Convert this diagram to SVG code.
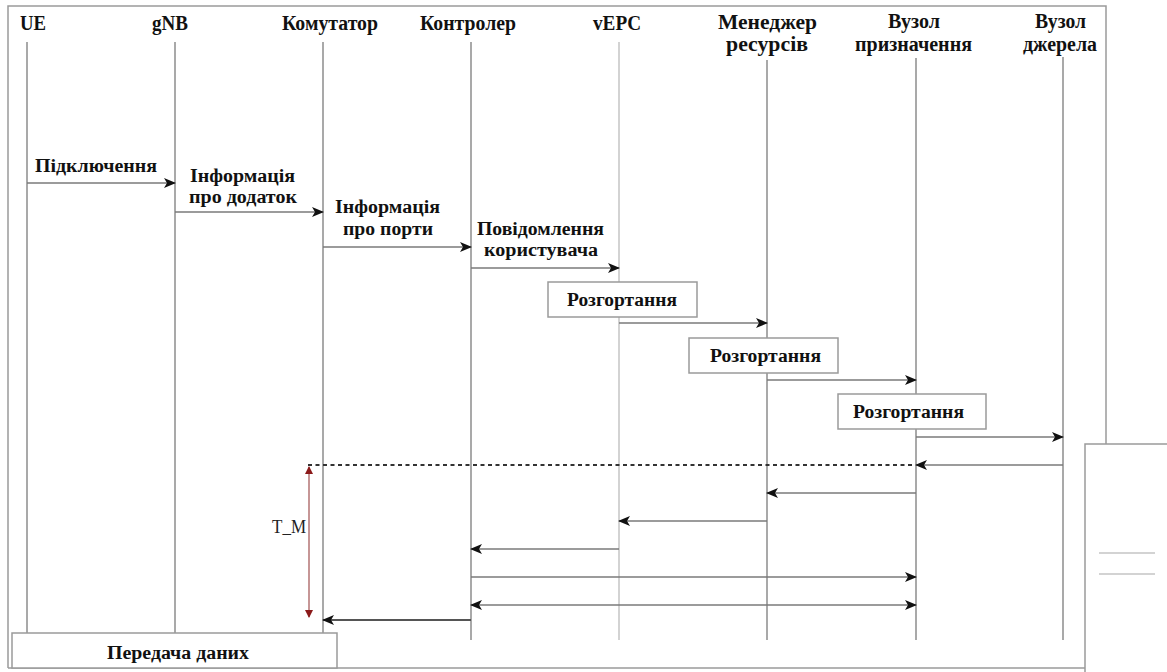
<svg xmlns="http://www.w3.org/2000/svg" width="1167" height="672" viewBox="0 0 1167 672">
  <defs>
    <marker id="arrow" viewBox="0 0 12 10" refX="11" refY="5" markerWidth="13" markerHeight="10" markerUnits="userSpaceOnUse" orient="auto-start-reverse">
      <path d="M0,0 L12,5 L0,10 L3,5 z" fill="#111"/>
    </marker>
    <marker id="tm" viewBox="0 0 8 8" refX="7" refY="4" markerWidth="9" markerHeight="8" markerUnits="userSpaceOnUse" orient="auto-start-reverse">
      <path d="M0,0 L8,4 L0,8 z" fill="#8b1a1a"/>
    </marker>
    <style>
      .frame { fill: none; stroke: #9a9a9a; stroke-width: 1.5; }
      .life { stroke: #8c8c8c; stroke-width: 1.5; }
      .life-light { stroke: #c4c4c4; stroke-width: 1.5; }
      .head { font-family: "Liberation Serif", "Tinos", "DejaVu Serif", serif; font-weight: bold; font-size: 20px; fill: #111; }
      .lbl { font-family: "Liberation Serif", "Tinos", "DejaVu Serif", serif; font-weight: bold; font-size: 18px; fill: #111; }
      .note { font-family: "Liberation Serif", "Tinos", "DejaVu Serif", serif; font-size: 18px; fill: #222; }
      .box { fill: #fff; stroke: #9a9a9a; stroke-width: 1.5; }
      .msg { stroke: #7a7a7a; stroke-width: 1.5; fill: none; }
      .msg-strong { stroke: #555; stroke-width: 2.2; fill: none; }
      .dash { stroke: #333; stroke-width: 1.8; stroke-dasharray: 4 3.5; fill: none; }
    </style>
  </defs>

  <!-- outer frame -->
  <g id="frame">
    <path class="frame" d="M8,668 L8,6 L1106,6 L1106,444"/>
    <line class="frame" x1="8" y1="668" x2="1085" y2="668"/>
    <rect class="frame" x="1085" y="444" width="100" height="240"/>
    <line x1="1099" y1="553" x2="1155" y2="553" stroke="#c4c4c4" stroke-width="1.5"/>
    <line x1="1099" y1="574" x2="1155" y2="574" stroke="#c4c4c4" stroke-width="1.5"/>
  </g>

  <!-- participants -->
  <g id="ue">
    <text class="head" x="20" y="30" textLength="26" lengthAdjust="spacingAndGlyphs">UE</text>
    <line class="life" x1="27" y1="42" x2="27" y2="633"/>
  </g>
  <g id="gnb">
    <text class="head" x="152" y="30" textLength="36" lengthAdjust="spacingAndGlyphs">gNB</text>
    <line class="life" x1="175" y1="42" x2="175" y2="633"/>
  </g>
  <g id="switch">
    <text class="head" x="282" y="30" textLength="96" lengthAdjust="spacingAndGlyphs">Комутатор</text>
    <line class="life" x1="323" y1="42" x2="323" y2="633"/>
  </g>
  <g id="controller">
    <text class="head" x="420" y="30" textLength="96" lengthAdjust="spacingAndGlyphs">Контролер</text>
    <line class="life" x1="471" y1="42" x2="471" y2="640"/>
  </g>
  <g id="vepc">
    <text class="head" x="593" y="30" textLength="48" lengthAdjust="spacingAndGlyphs">vEPC</text>
    <line class="life-light" x1="619" y1="42" x2="619" y2="640"/>
  </g>
  <g id="resource-manager">
    <text class="head" x="718" y="29" textLength="99" lengthAdjust="spacingAndGlyphs">Менеджер</text>
    <text class="head" x="726" y="51" textLength="82" lengthAdjust="spacingAndGlyphs">ресурсів</text>
    <line class="life" x1="767" y1="60" x2="767" y2="640"/>
  </g>
  <g id="target-node">
    <text class="head" x="888" y="28" textLength="52" lengthAdjust="spacingAndGlyphs">Вузол</text>
    <text class="head" x="855" y="51" textLength="117" lengthAdjust="spacingAndGlyphs">призначення</text>
    <line class="life" x1="916" y1="58" x2="916" y2="640"/>
  </g>
  <g id="source-node">
    <text class="head" x="1035" y="28" textLength="51" lengthAdjust="spacingAndGlyphs">Вузол</text>
    <text class="head" x="1023" y="51" textLength="74" lengthAdjust="spacingAndGlyphs">джерела</text>
    <line class="life" x1="1063" y1="57" x2="1063" y2="640"/>
  </g>

  <!-- deployment boxes -->
  <g id="deploy-1">
    <rect class="box" x="548" y="282" width="149" height="35"/>
    <text class="lbl" x="567" y="306" textLength="110" lengthAdjust="spacingAndGlyphs">Розгортання</text>
  </g>
  <g id="deploy-2">
    <rect class="box" x="689" y="338" width="149" height="35"/>
    <text class="lbl" x="710" y="362" textLength="111" lengthAdjust="spacingAndGlyphs">Розгортання</text>
  </g>
  <g id="deploy-3">
    <rect class="box" x="838" y="394" width="148" height="35"/>
    <text class="lbl" x="853" y="418" textLength="111" lengthAdjust="spacingAndGlyphs">Розгортання</text>
  </g>

  <!-- data transfer box -->
  <g id="data-transfer">
    <rect class="box" x="12" y="633" width="325" height="35"/>
    <text class="lbl" x="107" y="659" textLength="142" lengthAdjust="spacingAndGlyphs">Передача даних</text>
  </g>

  <!-- message labels -->
  <g id="labels">
    <text class="lbl" x="35" y="172" textLength="122" lengthAdjust="spacingAndGlyphs">Підключення</text>
    <text class="lbl" x="190" y="182" textLength="105" lengthAdjust="spacingAndGlyphs">Інформація</text>
    <text class="lbl" x="189" y="203" textLength="108" lengthAdjust="spacingAndGlyphs">про додаток</text>
    <text class="lbl" x="335" y="213" textLength="105" lengthAdjust="spacingAndGlyphs">Інформація</text>
    <text class="lbl" x="343" y="235" textLength="90" lengthAdjust="spacingAndGlyphs">про порти</text>
    <text class="lbl" x="477" y="235" textLength="127" lengthAdjust="spacingAndGlyphs">Повідомлення</text>
    <text class="lbl" x="484" y="256" textLength="114" lengthAdjust="spacingAndGlyphs">користувача</text>
  </g>

  <!-- connectors -->
  <g id="connectors">
    <line class="msg" x1="27" y1="183" x2="175" y2="183" marker-end="url(#arrow)"/>
    <line class="msg" x1="175" y1="212" x2="323" y2="212" marker-end="url(#arrow)"/>
    <line class="msg" x1="323" y1="247" x2="471" y2="247" marker-end="url(#arrow)"/>
    <line class="msg" x1="471" y1="268" x2="619" y2="268" marker-end="url(#arrow)"/>
    <line class="msg" x1="619" y1="323" x2="767" y2="323" marker-end="url(#arrow)"/>
    <line class="msg" x1="767" y1="380" x2="916" y2="380" marker-end="url(#arrow)"/>
    <line class="msg" x1="916" y1="437" x2="1063" y2="437" marker-end="url(#arrow)"/>

    <line class="dash" x1="308" y1="465" x2="912" y2="465"/>
    <line class="msg" x1="1063" y1="465" x2="916" y2="465" marker-end="url(#arrow)"/>
    <line class="msg" x1="916" y1="493" x2="767" y2="493" marker-end="url(#arrow)"/>
    <line class="msg" x1="767" y1="521" x2="619" y2="521" marker-end="url(#arrow)"/>
    <line class="msg" x1="619" y1="549" x2="471" y2="549" marker-end="url(#arrow)"/>
    <line class="msg" x1="471" y1="577" x2="916" y2="577" marker-end="url(#arrow)"/>
    <line class="msg" x1="471" y1="605" x2="916" y2="605" marker-start="url(#arrow)" marker-end="url(#arrow)"/>
    <line class="msg-strong" x1="471" y1="620" x2="323" y2="620" marker-end="url(#arrow)"/>
  </g>

  <!-- T_M interval -->
  <g id="tm-interval">
    <line x1="309" y1="467" x2="309" y2="617" stroke="#a05050" stroke-width="1.2" marker-start="url(#tm)" marker-end="url(#tm)"/>
    <text class="note" x="272" y="533" textLength="34" lengthAdjust="spacingAndGlyphs">T_M</text>
  </g>
</svg>
